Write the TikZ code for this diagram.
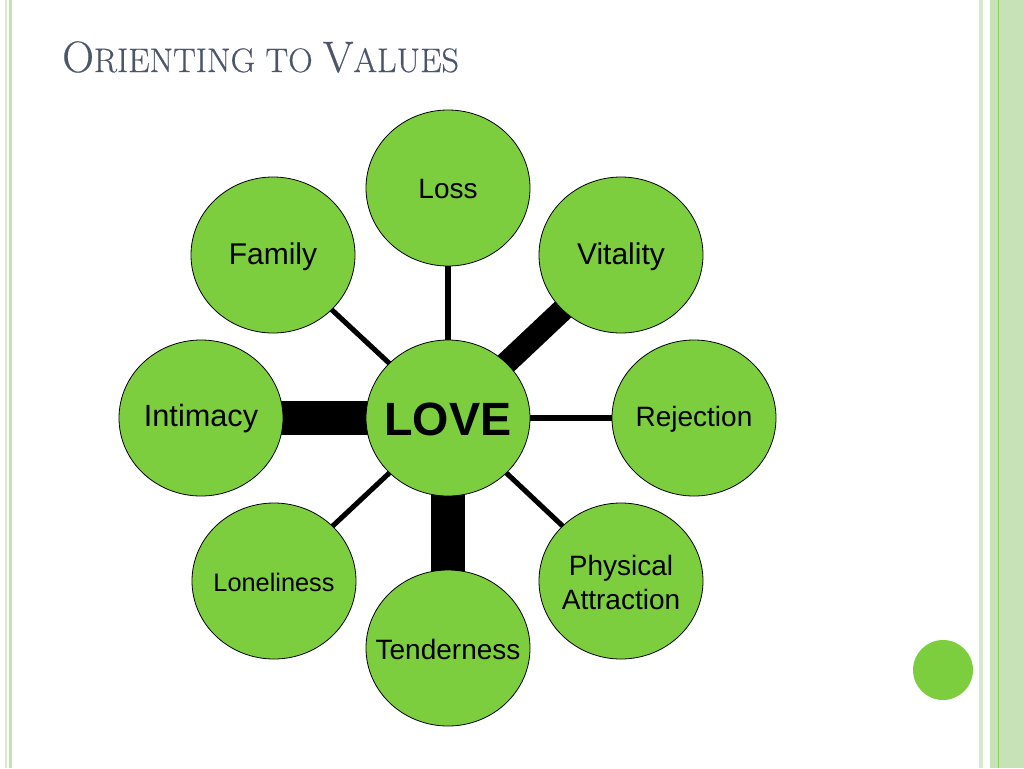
\documentclass[tikz,border=0pt]{standalone}
\usepackage{fontspec}
\newfontfamily\arial{Liberation Sans}
\newfontfamily\titlefont{Latin Modern Roman}[FakeBold=0.5]
\usetikzlibrary{shapes.geometric,backgrounds}
\definecolor{bubble}{RGB}{124,206,62}
\definecolor{titlec}{RGB}{76,86,106}
\definecolor{bandA}{RGB}{214,233,202}
\definecolor{bandB}{RGB}{200,226,184}
\definecolor{bandC}{RGB}{140,205,100}
\newcommand{\bigc}[1]{{\fontsize{33}{36}\selectfont #1}}
\newcommand{\smc}[1]{{\fontsize{25.5}{36}\selectfont #1}}
\tikzset{
  bub/.style={ellipse, draw=black, line width=0.6pt, fill=bubble, minimum width=123pt, minimum height=117pt, inner sep=0pt},
  lbl/.style={inner sep=0pt, align=center, font=\arial},
  thin link/.style={line width=3.8pt, black},
  thick link/.style={line width=26pt, black},
  mid link/.style={line width=17pt, black}
}
\begin{document}
\begin{tikzpicture}[x=0.75pt, y=-0.75pt]
\useasboundingbox (0,0) rectangle (1024,768);
% border bands
\fill[bandA] (5,0) rectangle (7,768);
\fill[bandB] (8.5,0) rectangle (12,768);
\fill[bandA] (979,0) rectangle (983,768);
\fill[bandB] (990,0) rectangle (1024,768);
\fill[bandC] (997.5,0) rectangle (998.8,768);
% title
\node[anchor=base west, inner sep=0pt, text=titlec, font=\titlefont] (title) at (62,72) {\bigc{O}\smc{RIENTING TO }\bigc{V}\smc{ALUES}};
% bubbles
\node[bub] (love) at (448,418) {};
\node[bub] (loss) at (448,188) {};
\node[bub] (family) at (273,255) {};
\node[bub] (vitality) at (621,255) {};
\node[bub] (intimacy) at (201,418) {};
\node[bub] (rejection) at (694,418) {};
\node[bub] (loneliness) at (274,581) {};
\node[bub] (physical) at (621,581) {};
\node[bub] (tenderness) at (448,648) {};
\node[circle, fill=bubble, minimum size=45pt, inner sep=0pt] (dot) at (943,670) {};
% labels
\node[lbl, font=\arial\fontsize{35}{40}\selectfont\bfseries] (love-t) at (448,419) {LOVE};
\node[lbl, font=\arial\fontsize{21}{24}\selectfont] (loss-t) at (448,189) {Loss};
\node[lbl, font=\arial\fontsize{22.5}{26}\selectfont] (family-t) at (273,257) {Family};
\node[lbl, font=\arial\fontsize{22.5}{26}\selectfont] (vitality-t) at (621,257) {Vitality};
\node[lbl, font=\arial\fontsize{23}{26}\selectfont] (intimacy-t) at (201,419) {Intimacy};
\node[lbl, font=\arial\fontsize{21}{24}\selectfont] (rejection-t) at (694,419) {Rejection};
\node[lbl, font=\arial\fontsize{19}{22}\selectfont] (loneliness-t) at (274,582) {Loneliness};
\node[lbl, font=\arial\fontsize{21}{25.5}\selectfont] (physical-t) at (621,582) {Physical\\Attraction};
\node[lbl, font=\arial\fontsize{21}{24}\selectfont] (tenderness-t) at (448,649) {Tenderness};
% connectors
\begin{pgfonlayer}{background}
\draw[thin link] (love.center) -- (loss.center);
\draw[thin link] (love.center) -- (family.center);
\draw[mid link] (love.center) -- (vitality.center);
\draw[thick link] (love.center) -- (intimacy.center);
\draw[thin link] (love.center) -- (rejection.center);
\draw[thin link] (love.center) -- (loneliness.center);
\draw[thin link] (love.center) -- (physical.center);
\draw[thick link] (love.center) -- (tenderness.center);
\end{pgfonlayer}
\end{tikzpicture}
\end{document}
